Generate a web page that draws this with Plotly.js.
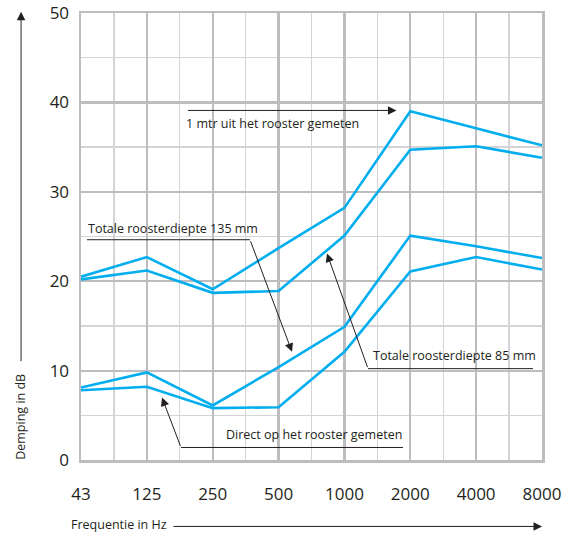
<!DOCTYPE html>
<html>
<head>
<meta charset="utf-8">
<script src="https://cdn.plot.ly/plotly-3.0.1.min.js"></script>
<style>html,body{margin:0;padding:0;background:#fff;}#chart{width:578px;height:533px;}</style>
</head>
<body>
<div id="chart"></div>
<script>
// Frequencies (category labels)
const frequencies = ['43', '125', '250', '500', '1000', '2000', '4000', '8000'];
// 1 mtr uit het rooster gemeten
const meter135 = [20.5, 22.7, 19.1, 23.7, 28.2, 39.0, 37.1, 35.2];
const meter85  = [20.2, 21.2, 18.7, 18.9, 25.1, 34.7, 35.1, 33.8];
// Direct op het rooster gemeten
const direct135 = [8.1, 9.8, 6.1, 10.4, 14.9, 25.1, 23.9, 22.6];
const direct85  = [7.8, 8.2, 5.8, 5.9, 12.1, 21.1, 22.7, 21.3];
const yTicks = [0, 10, 20, 30, 40, 50];

const idx = frequencies.map((f, i) => i);
const lineColor = '#00aeef';
const series = [meter135, meter85, direct135, direct85];
const traces = series.map(s => ({
  type: 'scatter', mode: 'lines', x: idx, y: s,
  line: {color: lineColor, width: 2.6}, hoverinfo: 'skip', showlegend: false
}));

const font = 'Open Sans, Noto Sans, sans-serif';
const txtColor = '#231f20';
const annFont = {family: font, size: 12.5, color: txtColor};

const arrowA = (x, y, ax, ay, head) => ({
  x: x, y: y, ax: ax, ay: ay, xref: 'x', yref: 'y', axref: 'x', ayref: 'y',
  text: '', showarrow: true, arrowhead: head, arrowsize: 1.7, arrowwidth: 1,
  arrowcolor: txtColor, standoff: 0, startstandoff: 0
});

const annotations = [
  {x: 1.56, y: 37.6, xref: 'x', yref: 'y', text: '1 mtr uit het rooster gemeten',
   showarrow: false, xanchor: 'left', yanchor: 'middle', font: annFont},
  arrowA(4.79, 39.1, 1.60, 39.1, 2),
  {x: 0.08, y: 25.9, xref: 'x', yref: 'y', text: 'Totale roosterdiepte 135 mm',
   showarrow: false, xanchor: 'left', yanchor: 'middle', font: annFont},
  arrowA(3.204, 12.1, 2.566, 24.64, 2),
  {x: 4.40, y: 11.7, xref: 'x', yref: 'y', text: 'Totale roosterdiepte 85 mm',
   showarrow: false, xanchor: 'left', yanchor: 'middle', font: annFont},
  arrowA(3.735, 23.1, 4.358, 10.22, 2),
  {x: 2.17, y: 2.85, xref: 'x', yref: 'y', text: 'Direct op het rooster gemeten',
   showarrow: false, xanchor: 'left', yanchor: 'middle', font: annFont},
  arrowA(1.23, 6.98, 1.518, 1.40, 2),
  // axis titles with arrows
  {x: -0.132, y: 0.097, xref: 'paper', yref: 'paper', text: 'Demping in dB', textangle: -90,
   showarrow: false, xanchor: 'center', yanchor: 'middle', font: annFont},
  {x: -0.130, y: 1.003, xref: 'paper', yref: 'paper', ax: 0, ay: 351, axref: 'pixel', ayref: 'pixel',
   text: '', showarrow: true, arrowhead: 2, arrowsize: 1.7, arrowwidth: 1, arrowcolor: txtColor, standoff: 0},
  {x: -0.026, y: -0.144, xref: 'paper', yref: 'paper', text: 'Frequentie in Hz',
   showarrow: false, xanchor: 'left', yanchor: 'middle', font: annFont},
  {x: 1.0, y: -0.1486, xref: 'paper', yref: 'paper', ax: -370, ay: 0, axref: 'pixel', ayref: 'pixel',
   text: '', showarrow: true, arrowhead: 2, arrowsize: 1.7, arrowwidth: 1, arrowcolor: txtColor, standoff: 0}
];

const shapes = [
  {type: 'line', xref: 'x', yref: 'y', x0: 0.091, x1: 2.566, y0: 24.64, y1: 24.64, line: {color: txtColor, width: 1}},
  {type: 'line', xref: 'x', yref: 'y', x0: 4.358, x1: 6.863, y0: 10.22, y1: 10.22, line: {color: txtColor, width: 1}},
  {type: 'line', xref: 'x', yref: 'y', x0: 1.518, x1: 4.889, y0: 1.40, y1: 1.40, line: {color: txtColor, width: 1}}
];

const gridMajor = '#bdbdc0';
const gridMinor = '#d4d4d6';
const layout = {
  width: 578, height: 533,
  margin: {l: 81, r: 36, t: 13, b: 72.5, pad: 0},
  paper_bgcolor: '#fff', plot_bgcolor: '#fff',
  xaxis: {
    range: [0, 7], tickvals: idx, ticktext: frequencies, ticks: '',
    ticklabelstandoff: 17,
    tickfont: {family: font, size: 17, color: txtColor},
    showgrid: true, gridcolor: gridMajor, gridwidth: 2.2, zeroline: false,
    showline: true, mirror: true, linecolor: gridMajor, linewidth: 2.5,
    minor: {dtick: 0.5, tick0: 0, showgrid: true, gridcolor: gridMinor, gridwidth: 1.3},
    fixedrange: true
  },
  yaxis: {
    range: [0, 50], tickvals: yTicks, ticks: '',
    ticklabelstandoff: 6,
    tickfont: {family: font, size: 17, color: txtColor},
    showgrid: true, gridcolor: gridMajor, gridwidth: 2.2, zeroline: false,
    showline: true, mirror: true, linecolor: gridMajor, linewidth: 2.5,
    minor: {dtick: 5, tick0: 0, showgrid: true, gridcolor: gridMinor, gridwidth: 1.3},
    fixedrange: true
  },
  annotations: annotations,
  shapes: shapes,
  showlegend: false
};

Plotly.newPlot('chart', traces, layout, {displayModeBar: false, staticPlot: true});
</script>
</body>
</html>
